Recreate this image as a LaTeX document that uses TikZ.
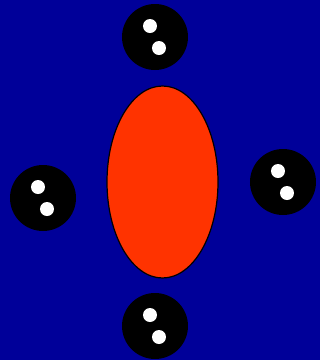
\documentclass[tikz,border=0pt]{standalone}
\definecolor{seablue}{RGB}{0,0,153}
\definecolor{bodyred}{RGB}{255,51,0}
\tikzset{
  ball/.style={fill=black},
  eye/.style={fill=white},
  body/.style={fill=bodyred,draw=black,line width=1.2pt}
}

\begin{document}
\begin{tikzpicture}[x=1pt,y=-1pt]
    \fill[seablue] (0,0) rectangle (320,360);
    \useasboundingbox (0,0) rectangle (320,360);

    % central body
    \draw[body] (162.5,182) ellipse (55.5 and 96);

    % four balls with two eyes each
    \foreach \bx/\by in {155/37, 43/198, 283/182, 155/326} {
        \fill[ball] (\bx,\by) circle (33);
        \fill[eye] (\bx-5,\by-11) circle (7);
        \fill[eye] (\bx+4,\by+11) circle (7);
    }
\end{tikzpicture}
\end{document}
